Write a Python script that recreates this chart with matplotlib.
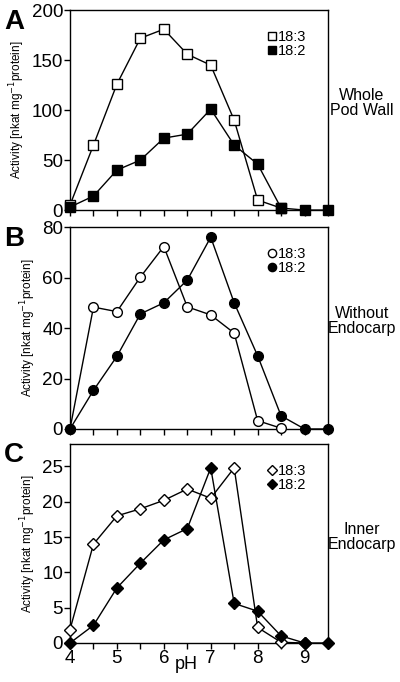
import matplotlib
matplotlib.use("Agg")
import matplotlib.pyplot as plt

plt.rcParams['font.family'] = ['Liberation Sans', 'DejaVu Sans']

ph = [4, 4.5, 5, 5.5, 6, 6.5, 7, 7.5, 8, 8.5, 9, 9.5]

# A: whole pod wall
a_183 = [5, 65, 126, 172, 181, 156, 145, 90, 10, 2]
a_182 = [3, 14, 40, 50, 72, 76, 101, 65, 46, 2, 0, 0]
# B: without endocarp
b_183 = [0, 48.3, 46.5, 60.2, 72.3, 48.4, 45.2, 38, 3.3, 0.3]
b_182 = [0, 15.3, 28.8, 45.6, 50, 59, 76, 50, 29, 5.2, 0, 0]
# C: inner endocarp
c_183 = [1.9, 14.0, 18.0, 19.0, 20.2, 21.8, 20.5, 24.8, 2.2, 0.1, 0]
c_182 = [0, 2.5, 7.8, 11.3, 14.6, 16.2, 24.8, 5.6, 4.5, 1.0, 0, 0]

fig = plt.figure(figsize=(4, 6.82), dpi=100)

panels = [
    ("A", a_183, a_182, "s", 7, (0, 200), [0, 50, 100, 150, 200], "Whole\nPod Wall", [0.175, 0.692, 0.645, 0.293]),
    ("B", b_183, b_182, "o", 7, (0, 80), [0, 20, 40, 60, 80], "Without\nEndocarp", [0.175, 0.371, 0.645, 0.296]),
    ("C", c_183, c_182, "D", 6.5, (0, 28.2), [0, 5, 10, 15, 20, 25], "Inner\nEndocarp", [0.175, 0.0572, 0.645, 0.292]),
]

for i, (letter, y3, y2, mk, ms, ylim, yticks, side, pos) in enumerate(panels):
    ax = fig.add_axes(pos)
    ax.plot(ph[:len(y3)], y3, color="black", lw=1, marker=mk, ms=ms,
            mfc="white", mec="black", mew=1, clip_on=False, label="18:3", zorder=3)
    ax.plot(ph[:len(y2)], y2, color="black", lw=1, marker=mk, ms=ms,
            mfc="black", mec="black", mew=1, clip_on=False, label="18:2", zorder=4)
    ax.set_xlim(4, 9.5)
    ax.set_ylim(*ylim)
    ax.set_yticks(yticks)
    ax.set_xticks([4 + 0.5 * k for k in range(12)])
    if letter == "C":
        ax.set_xticklabels([str(int(t)) if t == int(t) and t < 9.5 else "" for t in ax.get_xticks()])
        ax.set_xlabel("pH", fontsize=13)
        ax.xaxis.set_label_coords(0.45, -0.065)
    else:
        ax.set_xticklabels([])
    ax.tick_params(direction="out", length=4, width=1, labelsize=13.5, pad=1)
    for s in ax.spines.values():
        s.set_linewidth(1)
    ax.set_ylabel("Activity [nkat mg$^{-1}$protein]", fontsize=8.5, labelpad=3)
    leg = ax.legend(loc="upper right", frameon=False, fontsize=10.5, handlelength=0.6,
                    handletextpad=0.1, labelspacing=0.0, borderaxespad=0, markerscale=0.85,
                    bbox_to_anchor=(0.94, 0.93))
    for h in leg.legend_handles:
        h.set_linestyle("none")
    fig.text(0.01, pos[1] + pos[3] + 0.002, letter, fontsize=20, fontweight="bold",
             va="top", ha="left")
    fig.text(0.905, pos[1] + pos[3] * 0.5 + 0.01, side, fontsize=11.5, ha="center", va="center",
             linespacing=1.0)

fig.savefig("out.png", dpi=100)
